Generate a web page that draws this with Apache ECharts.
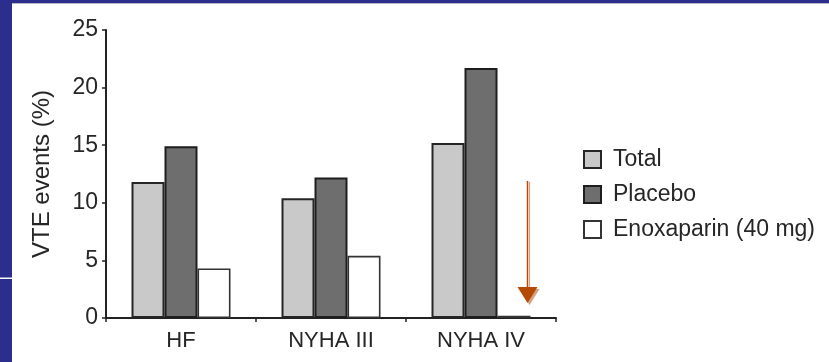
<!DOCTYPE html>
<html>
<head>
<meta charset="utf-8">
<script src="https://cdn.jsdelivr.net/npm/echarts@6/dist/echarts.min.js"></script>
<style>
  html, body { margin: 0; padding: 0; background: #ffffff; }
  #chart { width: 829px; height: 362px; }
</style>
</head>
<body>
<div id="chart"></div>
<script>
// VTE events by heart-failure group
const categories = ['HF', 'NYHA III', 'NYHA IV'];
const totalValues = [11.8, 10.4, 15.2];
const placeboValues = [14.9, 12.2, 21.7];
const enoxaparinValues = [4.3, 5.4, 0.2];
const seriesNames = ['Total', 'Placebo', 'Enoxaparin (40 mg)'];
const yTicks = { min: 0, max: 25, interval: 5 };
// Arrow pointing at the NYHA IV enoxaparin bar: [category index, start value, tip value]
const arrowData = [[2, 11.9, 1.3]];

const FONT = '"Liberation Sans", Arial, sans-serif';
const TEXT = '#262626';
const chart = echarts.init(document.getElementById('chart'), null, { renderer: 'canvas' });

function barSeries(name, values, fill, border, bw) {
  return {
    name: name,
    type: 'bar',
    data: values,
    barWidth: 33,
    barGap: '0%',
    itemStyle: { color: fill, borderColor: border, borderWidth: bw },
    emphasis: { disabled: true },
    z: 2
  };
}

const option = {
  animation: false,
  backgroundColor: '#ffffff',
  textStyle: { fontFamily: FONT },
  graphic: [
    { type: 'rect', shape: { x: 0, y: 0, width: 829, height: 3 }, style: { fill: '#2b2e8c' }, silent: true },
    { type: 'rect', shape: { x: 0, y: 3, width: 829, height: 1 }, style: { fill: '#b9b9c4' }, silent: true },
    { type: 'rect', shape: { x: 0, y: 0, width: 12, height: 362 }, style: { fill: '#2b2e8c' }, silent: true },
    { type: 'rect', shape: { x: 0, y: 277.5, width: 12, height: 1.5 }, style: { fill: '#ffffff' }, silent: true }
  ],
  grid: { left: 106, right: 273, top: 30, bottom: 44, containLabel: false },
  legend: {
    orient: 'vertical',
    left: 578,
    top: 143,
    icon: 'rect',
    itemWidth: 17,
    itemHeight: 17,
    itemGap: 12,
    selectedMode: false,
    data: seriesNames,
    textStyle: { fontFamily: FONT, fontSize: 23, color: TEXT, lineHeight: 18, padding: [0, 0, 0, 7] }
  },
  xAxis: {
    type: 'category',
    data: categories,
    axisLine: { lineStyle: { color: '#222', width: 2 } },
    axisTick: { show: true, length: 4, lineStyle: { color: '#222', width: 1.5 } },
    axisLabel: { fontFamily: FONT, fontSize: 22, color: TEXT, margin: 12 }
  },
  yAxis: {
    type: 'value',
    min: yTicks.min,
    max: yTicks.max,
    interval: yTicks.interval,
    name: 'VTE events (%)',
    nameLocation: 'middle',
    nameRotate: 90,
    nameGap: 52,
    nameTextStyle: { fontFamily: FONT, fontSize: 24, color: TEXT },
    splitLine: { show: false },
    axisLine: { show: true, lineStyle: { color: '#222', width: 2 } },
    axisTick: { show: true, length: 4, lineStyle: { color: '#222', width: 1.5 } },
    axisLabel: { fontFamily: FONT, fontSize: 23, color: TEXT, margin: 8 }
  },
  series: [
    barSeries(seriesNames[0], totalValues, '#c9c9c9', '#262626', 2),
    barSeries(seriesNames[1], placeboValues, '#6e6e6e', '#1e1e1e', 2),
    barSeries(seriesNames[2], enoxaparinValues, '#ffffff', '#333333', 1.6),
    {
      type: 'custom',
      name: 'arrow',
      data: arrowData,
      silent: true,
      z: 5,
      renderItem: function (params, api) {
        const start = api.coord([api.value(0), api.value(1)]);
        const tip = api.coord([api.value(0), api.value(2)]);
        const band = api.size([1, 0])[0];
        const x = start[0] + band * 0.31;
        const headH = 16, headW = 10;
        const color = '#b54a06';
        const shade = '#dba27c';
        return {
          type: 'group',
          children: [
            { type: 'line', shape: { x1: x + 2, y1: start[1] + 1, x2: x + 2, y2: tip[1] - headH }, style: { stroke: shade, lineWidth: 1.2 } },
            { type: 'polygon', shape: { points: [[x - headW + 2, tip[1] - headH + 2], [x + headW + 2, tip[1] - headH + 2], [x + 2, tip[1] + 2]] }, style: { fill: '#c98a60', opacity: 0.8 } },
            { type: 'line', shape: { x1: x, y1: start[1], x2: x, y2: tip[1] - headH }, style: { stroke: color, lineWidth: 1.5 } },
            { type: 'polygon', shape: { points: [[x - headW, tip[1] - headH], [x + headW, tip[1] - headH], [x, tip[1]]] }, style: { fill: color } }
          ]
        };
      }
    }
  ]
};

chart.setOption(option);
</script>
</body>
</html>
